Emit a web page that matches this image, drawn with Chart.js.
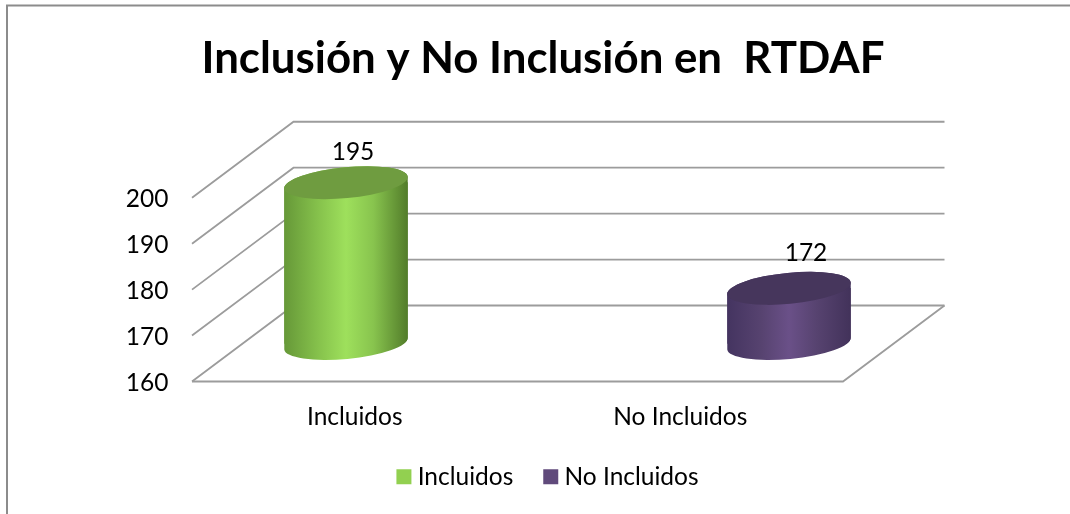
<!DOCTYPE html>
<html><head><meta charset="utf-8">
<script src="https://cdn.jsdelivr.net/npm/chart.js@4"></script>
<style>html,body{margin:0;padding:0;background:#fff}#w{width:1070px;height:514px}</style>
</head><body><div id="w"><canvas id="c" width="1070" height="514"></canvas></div>
<script>
const categories = ['Incluidos', 'No Incluidos'];
const incluidos = [195];
const noIncluidos = [172];
const yTicks = [160, 170, 180, 190, 200];
const titleText = 'Inclusión y No Inclusión en  RTDAF';

const FONT = 'Lato, Carlito, sans-serif';
const DEPTH_X = 101.5, DEPTH_Y = 76, BAR_W = 124;
const palettes = [
  {solid:'#92d050', cap:'#6f9c40', stops:['#669838','#86c24c','#9ee05c','#88c44e','#527c2a']},
  {solid:'#604a7b', cap:'#46365c', stops:['#443460','#574370','#6a5088','#574370','#42325a']}
];
const labelOffsets = [[7,-31],[17,-35]];
const RY = 15.5, ROT = -5.5 * Math.PI / 180;

function grad(ctx, cx, p){
  const g = ctx.createLinearGradient(cx - BAR_W/2, 0, cx + BAR_W/2, 0);
  [0,.28,.5,.72,1].forEach((s,i)=>g.addColorStop(s,p.stops[i]));
  return g;
}
function fill(c){
  return function(context){
    const s = context.chart.scales.xb;
    if(!s) return palettes[c].solid;
    return grad(context.chart.ctx, s.getPixelForValue(c), palettes[c]);
  };
}
const scene = {
  id:'scene',
  afterLayout(chart){
    chart.legend.left += 7.5; chart.legend.right += 7.5;
  },
  beforeDraw(chart){
    const {ctx, scales:{y}, chartArea:a} = chart;
    ctx.save();
    ctx.strokeStyle='#8c8c8c'; ctx.lineWidth=2;
    ctx.beginPath(); ctx.moveTo(7,514); ctx.lineTo(7,5.5); ctx.lineTo(1070,5.5); ctx.stroke();
    ctx.strokeStyle='#9c9c9c'; ctx.lineWidth=1.8;
    yTicks.forEach(t=>{
      const p = y.getPixelForValue(t);
      ctx.beginPath();
      ctx.moveTo(a.left,p); ctx.lineTo(a.left+DEPTH_X,p-DEPTH_Y); ctx.lineTo(a.right+DEPTH_X,p-DEPTH_Y);
      ctx.stroke();
    });
    const p0 = y.getPixelForValue(yTicks[0]);
    ctx.beginPath();
    ctx.moveTo(a.left,p0); ctx.lineTo(a.right,p0); ctx.lineTo(a.right+DEPTH_X,p0-DEPTH_Y);
    ctx.stroke();
    ctx.restore();
  },
  beforeDatasetDraw(chart,{index}){
    const el = chart.getDatasetMeta(index).data[0];
    const yb = chart.scales.yb;
    const bot = yb.getPixelForValue(yTicks[0]);
    const {ctx} = chart, r = BAR_W/2;
    ctx.save();
    ctx.beginPath();
    ctx.ellipse(el.x, el.y, r, RY, ROT, Math.PI, 2*Math.PI);
    ctx.ellipse(el.x, bot, r, RY, ROT, 0, Math.PI);
    ctx.closePath();
    ctx.fillStyle = grad(ctx, el.x, palettes[index]);
    ctx.fill();
    ctx.clip();
  },
  afterDatasetDraw(chart,{index}){
    const {ctx} = chart;
    ctx.restore();
    const el = chart.getDatasetMeta(index).data[0];
    ctx.save();
    ctx.beginPath();
    ctx.ellipse(el.x, el.y, BAR_W/2, RY, ROT, 0, 2*Math.PI);
    ctx.fillStyle = palettes[index].cap;
    ctx.fill();
    ctx.restore();
  },
  afterDatasetsDraw(chart){
    const {ctx} = chart;
    ctx.save();
    ctx.font = '24.5px '+FONT; ctx.fillStyle='#000';
    ctx.textAlign='center'; ctx.textBaseline='middle';
    chart.data.datasets.forEach((d,i)=>{
      const el = chart.getDatasetMeta(i).data[0];
      ctx.fillText(String(d.data[0].y), el.x+labelOffsets[i][0], el.y+labelOffsets[i][1]);
    });
    ctx.restore();
  }
};
new Chart(document.getElementById('c'),{
  type:'bar',
  data:{
    labels:categories,
    datasets:[
      {label:categories[0], data:incluidos.map(v=>({x:0,y:v})), backgroundColor:fill(0), borderWidth:0, xAxisID:'xb', yAxisID:'yb', base:yTicks[0], clip:false},
      {label:categories[1], data:noIncluidos.map(v=>({x:1,y:v})), backgroundColor:fill(1), borderWidth:0, xAxisID:'xb', yAxisID:'yb', base:yTicks[0], clip:false}
    ]
  },
  options:{
    responsive:false, animation:false, grouped:false,
    barThickness:BAR_W,
    layout:{padding:{left:16,right:0,top:0,bottom:15}},
    plugins:{
      tooltip:{enabled:false},
      title:{display:true,text:titleText,color:'#000',font:{family:FONT,size:43.8,weight:'bold',lineHeight:1.2},padding:{top:32.6,bottom:112.6}},
      legend:{position:'bottom',labels:{
        font:{family:FONT,size:24.5},color:'#000',boxWidth:3,boxHeight:3,padding:36,
        generateLabels:()=>categories.map((t,i)=>({text:t,fillStyle:palettes[i].solid,strokeStyle:palettes[i].solid,lineWidth:12,lineJoin:'miter',datasetIndex:i,fontColor:'#000'}))
      }}
    },
    scales:{
      x:{type:'category',position:'bottom',offset:true,grid:{display:false},border:{display:false},
        ticks:{color:'#000',font:{family:FONT,size:24.5},padding:13,maxRotation:0},
        afterFit(s){s.height=47;}},
      y:{type:'linear',position:'left',min:160,max:200,grid:{display:false,drawTicks:false},border:{display:false},
        afterBuildTicks(s){s.ticks=yTicks.map(v=>({value:v}));},
        ticks:{color:'#000',font:{family:FONT,size:24.5},padding:23.5,labelOffset:1.5},
        afterFit(s){s.width=176;}},
      xb:{type:'linear',display:false,offset:false,min:-0.3476,max:1.1219},
      yb:{type:'linear',position:'right',min:151.72,max:191.72,grid:{display:false},border:{display:false},ticks:{display:false},
        afterFit(s){s.width=227;}}
    }
  },
  plugins:[scene]
});
</script></body></html>
